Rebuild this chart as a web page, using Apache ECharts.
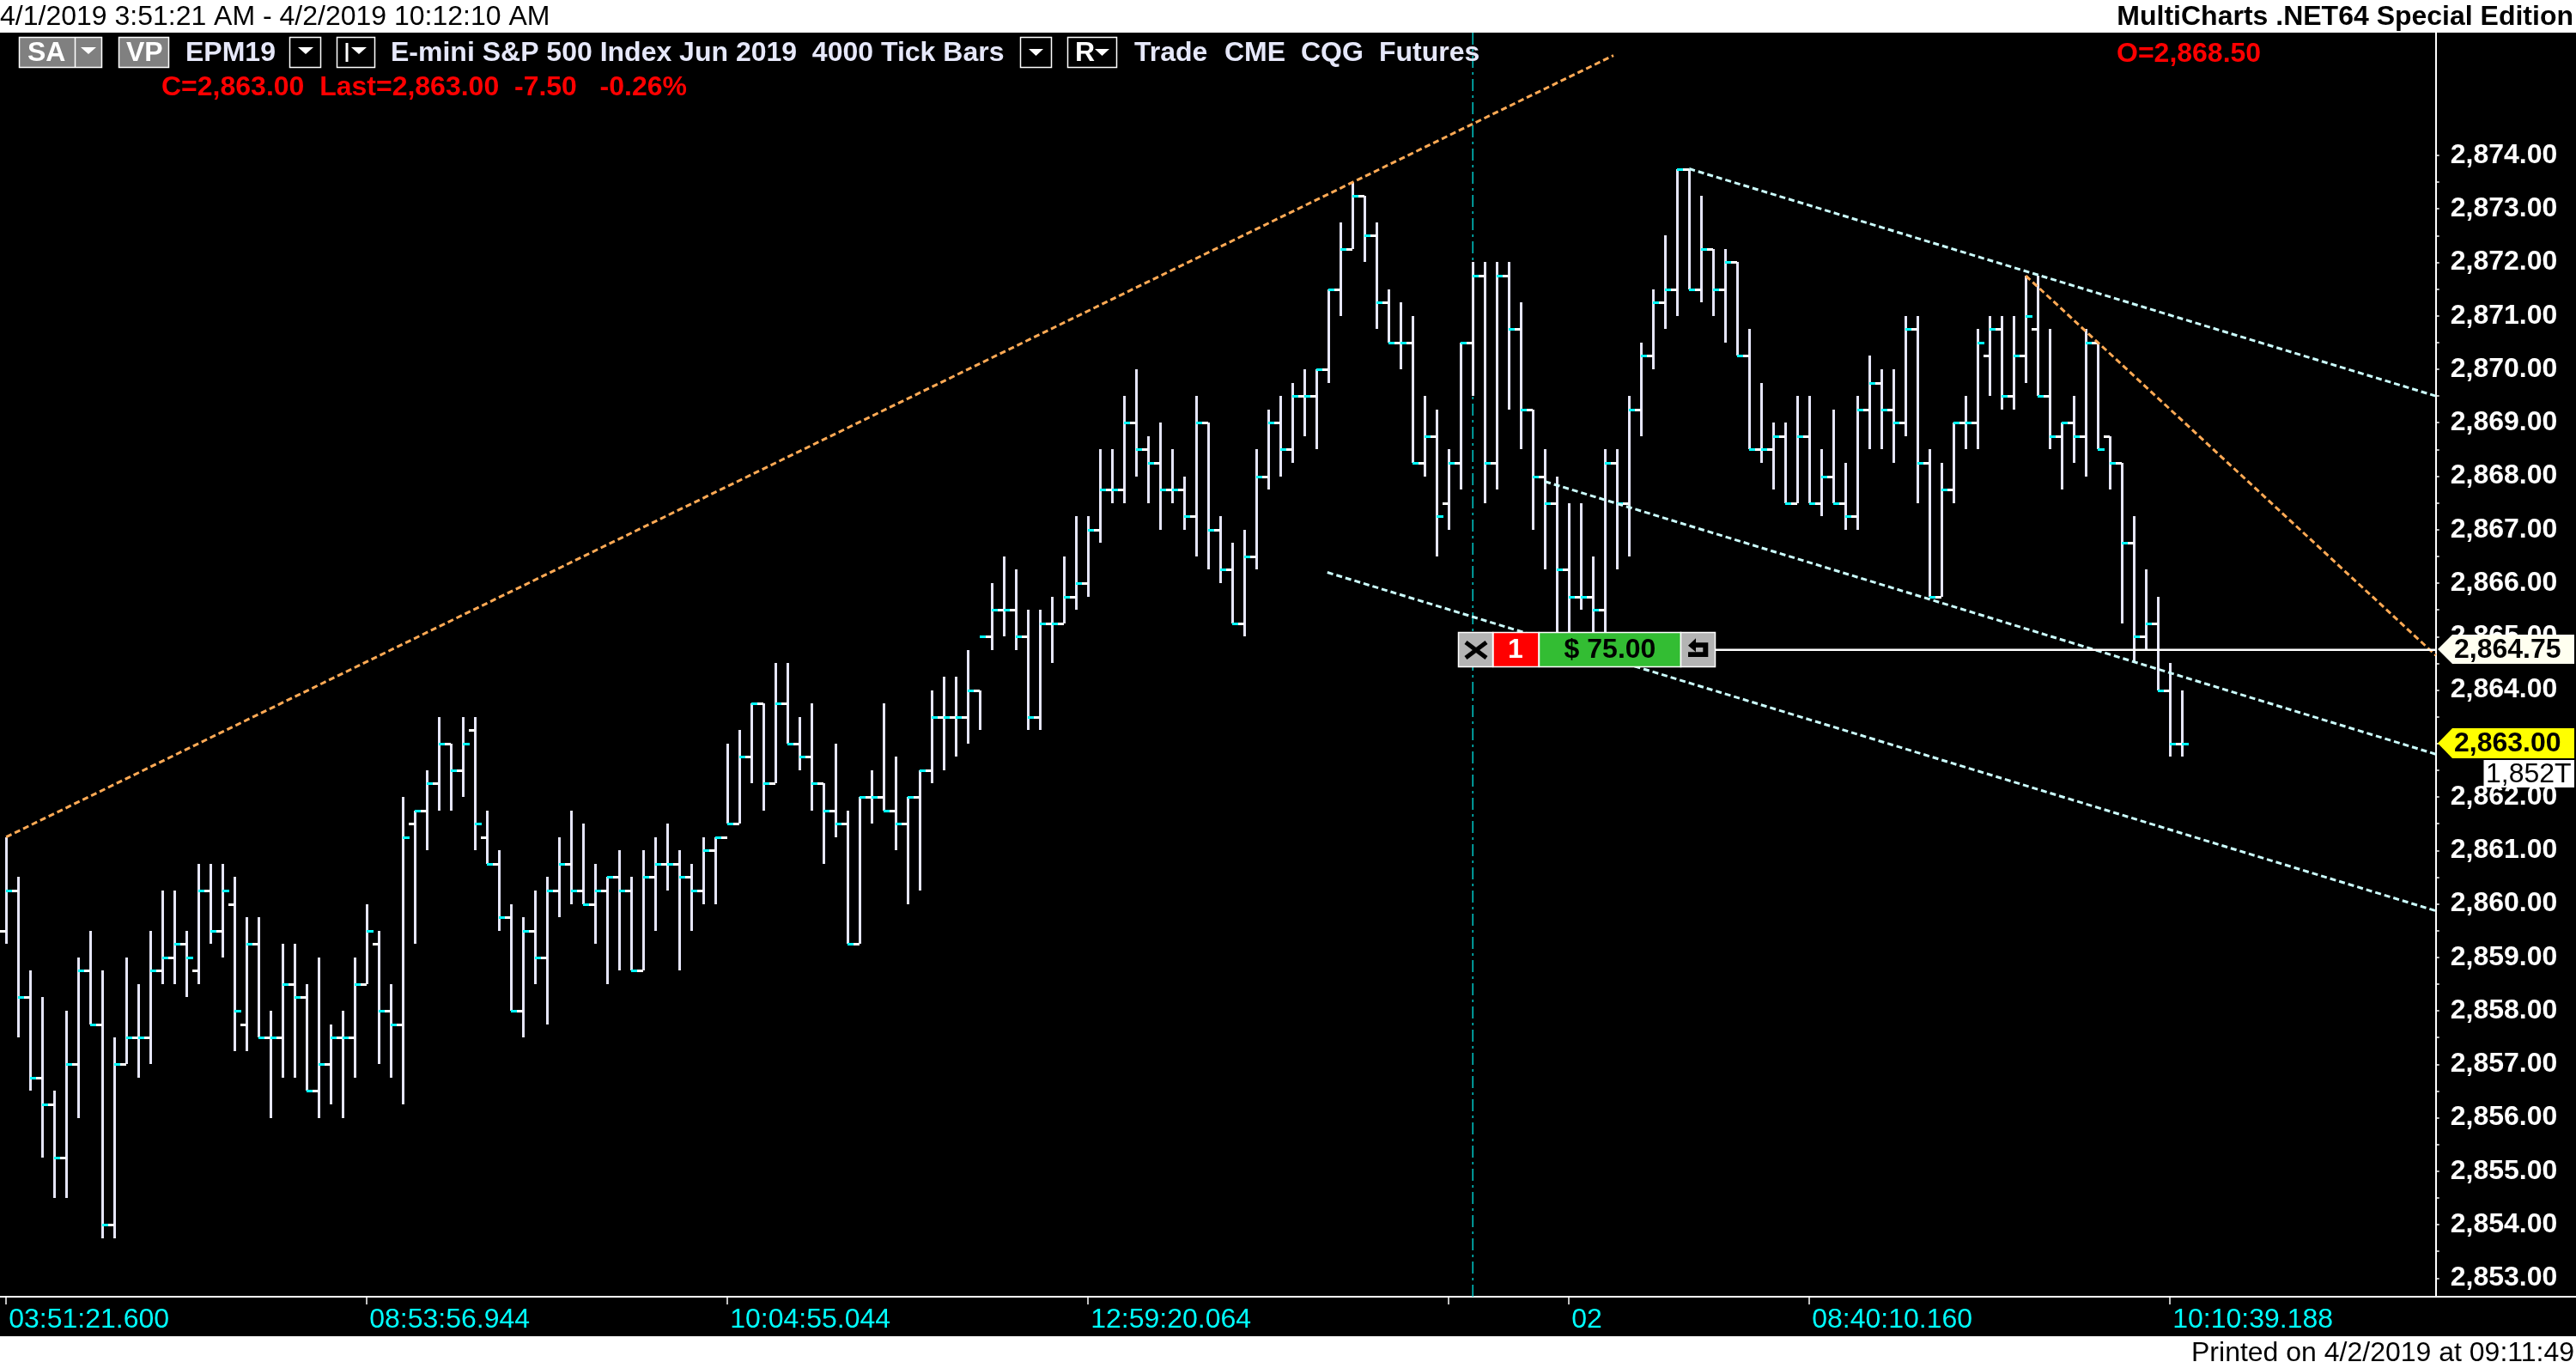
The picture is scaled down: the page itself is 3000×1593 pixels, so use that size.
<!DOCTYPE html>
<html>
<head>
<meta charset="utf-8">
<style>html,body{margin:0;padding:0;background:#fff}#c{width:3000px;height:1593px}</style>
<script src="https://cdn.jsdelivr.net/npm/echarts@6/dist/echarts.min.js"></script>
</head>
<body>
<div id="c"></div>
<script>
// ---------- chart values ----------
const opens = [
2859.5,2860.25,2858.25,2856.75,2856.25,2855.25,2857,2858.75,2857.75,2854,
2857,2857.5,2857.5,2858.75,2859,2859.25,2858.75,2860.25,2859.5,2860,
2857.75,2859.25,2857.5,2857.5,2858.5,2858.25,2856.5,2857,2857.5,2857.5,
2858.5,2859.25,2858,2857.75,2861.5,2861.75,2862.25,2863,2862.5,2863.25,
2861.25,2860.75,2859.75,2858,2859.5,2859,2860.25,2860.75,2860.25,2860,
2860.25,2860.5,2860.25,2858.75,2860.5,2860.75,2860.75,2860.5,2860.25,2861,
2861.25,2861.5,2862.75,2863.75,2862.25,2863.75,2863,2862.75,2862.25,2861.75,
2861.5,2859.25,2862,2862,2861.75,2861.5,2862,2862.5,2863.5,2863.5,
2863.5,2864,2865,2865.5,2865.5,2865,2863.5,2865.25,2865.25,2865.75,
2866,2867,2867.75,2867.75,2869,2868.5,2868.25,2867.75,2867.75,2867.25,
2869,2867,2866.25,2865.25,2866.5,2868,2869,2868.5,2869.5,2869.5,
2870,2871.5,2872.25,2873.25,2872.5,2871.25,2870.5,2870.5,2868.25,2868.75,
2867.5,2868.25,2870.5,2871.75,2868.25,2871.75,2870.75,2869.25,2868,2867.5,
2866.25,2865.75,2865.75,2865.5,2868.25,2867.5,2869.25,2870.25,2871.25,2871.5,
2873.75,2871.5,2872.25,2871.5,2872,2870.25,2868.5,2868.5,2868.75,2867.5,
2868.75,2867.5,2868,2867.5,2867.25,2869.25,2869.75,2869.25,2869,2870.75,
2868.25,2865.75,2867.75,2869,2869,2870.25,2870.75,2869.5,2870.25,2870.75,
2869.5,2868.75,2869,2868.75,2870.5,2868.75,2868.25,2866.75,2865,2865.25,2864,2863];
const highs = [
2861.25,2860.5,2858.75,2858.25,2856.5,2858,2859,2859.5,2858.75,2857.5,
2859,2858.5,2859.5,2860.25,2860.25,2859.5,2860.75,2860.75,2860.75,2860.5,
2859.75,2859.75,2858,2859.25,2859.25,2858.5,2859,2857.75,2858,2859,
2860,2859.5,2858.5,2862,2861.75,2862.5,2863.5,2863,2863.5,2863.5,
2861.75,2861,2860,2859.75,2860.25,2860.5,2861.25,2861.75,2861.5,2860.75,
2860.5,2861,2860.5,2861,2861.25,2861.5,2861,2860.75,2861.25,2861.25,
2863,2863.25,2863.75,2863.75,2864.5,2864.5,2863.5,2863.75,2862.25,2863,
2861.75,2862,2862.5,2863.75,2862.75,2862,2862.5,2864,2864.25,2864.25,
2864.75,2864,2866,2866.5,2866.25,2865.5,2865.5,2865.75,2866.5,2867.25,
2867.25,2868.5,2868.5,2869.5,2870,2868.75,2869,2868.5,2868,2869.5,
2869,2867.25,2866.75,2867,2868.5,2869.25,2869.5,2869.75,2870,2870,
2871.5,2872.75,2873.5,2873.25,2872.75,2871.5,2871.25,2871,2869.5,2869.25,
2868.5,2870.5,2872,2872,2872,2872,2871.25,2869.25,2868.5,2868,
2867.5,2867.5,2866.5,2868.5,2868.5,2869.5,2870.5,2871.5,2872.5,2873.75,
2873.75,2873.25,2872.25,2872.25,2872,2870.75,2869.75,2869,2869,2869.5,
2869.5,2868.5,2869.25,2868.25,2869.5,2870.25,2870,2870,2871,2871,
2868.5,2868.25,2869,2869.5,2870.75,2871,2871,2871,2871.75,2871.75,
2870.75,2869,2869.5,2870.75,2870.5,2868.75,2868.25,2867.25,2866.25,2865.75,2864.5,2864];
const lows = [
2859.25,2857.5,2856.5,2855.25,2854.5,2854.5,2856,2857.75,2853.75,2853.75,
2857,2856.75,2857,2858.5,2858.5,2858.25,2858.5,2859.25,2859,2857.25,
2857.25,2857.5,2856,2856.75,2856.75,2856.5,2856,2856.25,2856,2856.75,
2858.5,2857,2856.75,2856.25,2859.25,2861,2861.75,2861.75,2862,2861,
2860.75,2859.5,2858,2857.5,2858.5,2857.75,2859.75,2860,2860,2859.25,
2858.5,2858.75,2858.75,2858.75,2859.5,2860.25,2858.75,2859.5,2860,2860,
2861.5,2861.5,2862.25,2861.75,2862.25,2863,2862.5,2861.75,2860.75,2861.25,
2859.25,2859.25,2861.5,2861.75,2861,2860,2860.25,2862.25,2862.5,2862.75,
2863,2863.25,2864.75,2865,2864.75,2863.25,2863.25,2864.5,2865.25,2865.5,
2865.75,2866.75,2867.5,2867.5,2868,2867.5,2867,2867.5,2867,2866.5,
2866.25,2866,2865.25,2865,2866.25,2867.75,2868,2868.25,2868.75,2868.5,
2869.75,2871,2872.25,2872,2870.75,2870.5,2870,2868.25,2868,2866.5,
2867,2867.75,2869.5,2867.5,2867.75,2869.25,2868.5,2867,2866.25,2864.75,
2864.75,2865.5,2864.75,2864.75,2866.25,2866.5,2868.75,2870,2870.75,2871,
2871.5,2871.25,2871,2870.5,2870.25,2868.5,2868.25,2867.75,2867.5,2867.5,
2867.5,2867.25,2867.5,2867,2867,2868.5,2868.5,2868.25,2868.75,2867.5,
2865.75,2865.75,2867.5,2868.5,2868.5,2869.5,2869.25,2869.25,2869.75,2869.5,
2868.5,2867.75,2868.25,2868,2868.5,2867.75,2865.25,2864.5,2864.75,2864,2862.75,2862.75];
const closes = [
2860.25,2858.25,2856.75,2856.25,2855.25,2857,2858.75,2857.75,2854,2857,
2857.5,2857.5,2858.75,2859,2859.25,2859,2860.25,2859.5,2860.25,2858,
2859.25,2857.5,2857.5,2858.5,2858.25,2856.5,2857,2857.5,2857.5,2858.5,
2859.5,2858,2857.75,2861.25,2861.75,2862.25,2863,2862.5,2863,2861.5,
2860.75,2859.75,2858,2859.5,2859,2860.25,2860.75,2860.25,2860,2860.25,
2860.5,2860.25,2858.75,2860.5,2860.75,2860.75,2860.5,2860.25,2861,2861.25,
2861.5,2862.75,2863.75,2862.25,2863.75,2863,2862.75,2862.25,2861.75,2861.5,
2859.25,2862,2862,2861.75,2861.5,2862,2862.5,2863.5,2863.5,2863.5,
2864,2865,2865.5,2865.5,2865,2863.5,2865.25,2865.25,2865.75,2866,
2867,2867.75,2867.75,2869,2868.5,2868.25,2867.75,2867.75,2867.25,2869,
2867,2866.25,2865.25,2866.5,2868,2869,2868.5,2869.5,2869.5,2870,
2871.5,2872.25,2873.25,2872.5,2871.25,2870.5,2870.5,2868.25,2868.75,2867.25,
2868.25,2870.5,2871.75,2868.25,2871.75,2870.75,2869.25,2868,2867.5,2866.25,
2865.75,2865.75,2865.5,2868.25,2867.5,2869.25,2870.25,2871.25,2871.5,2873.75,
2871.5,2872.25,2871.5,2872,2870.25,2868.5,2868.5,2868.75,2867.5,2868.75,
2867.5,2868,2867.5,2867.25,2869.25,2869.75,2869.25,2869,2870.75,2868.25,
2865.75,2867.75,2869,2869,2870.5,2870.75,2869.5,2870.25,2871,2869.5,
2868.75,2869,2868.75,2870.5,2868.5,2868.25,2866.75,2865,2865.25,2864,2863,2863];

const xTickBars   = [0,30,60,90,120,130,150,180];
const xTickLabels = ['03:51:21.600','08:53:56.944','10:04:55.044','12:59:20.064','','02','08:40:10.160','10:10:39.188'];
const yTickValues = [2853,2854,2855,2856,2857,2858,2859,2860,2861,2862,2863,2864,2865,2866,2867,2868,2869,2870,2871,2872,2873,2874];

const trendOrangeUp   = [[0,2861.25],[133.7,2875.87]];
const trendOrangeDown = [[168,2871.75],[202.1,2864.65]];
const channelTop      = [[140,2873.75],[202.1,2869.5]];
const channelMid      = [[128,2867.9],[202.1,2862.8]];
const channelLow      = [[109.9,2866.2],[202.1,2859.87]];
const targetLine      = [[142.2,2864.75],[202.1,2864.75]];
const sessionLine     = [[122,2852.651],[122,2876.297]];

const FONT = '"Liberation Sans", Arial, sans-serif';
const bars = opens.map((o,i)=>[i,o,highs[i],lows[i],closes[i]]);
const halfTicks = [];
yTickValues.forEach(v=>{halfTicks.push(v); if(v<2874) halfTicks.push(v+0.5);});

function renderBar(params, api){
  const i=api.value(0);
  const x=Math.round(api.coord([i,0])[0]);
  const yO=Math.round(api.coord([i,api.value(1)])[1]);
  const yH=Math.round(api.coord([i,api.value(2)])[1]);
  const yL=Math.round(api.coord([i,api.value(3)])[1]);
  const yC=Math.round(api.coord([i,api.value(4)])[1]);
  return {type:'group',children:[
    {type:'rect',shape:{x:x-1,y:yH,width:3,height:yL-yH},style:{fill:'#e6e6fa'}},
    {type:'rect',shape:{x:x-7,y:yO-1,width:7,height:3},style:{fill:'#ffffff'}},
    {type:'rect',shape:{x:x,y:yC-1,width:8,height:3},style:{fill:'#00ffff'}}
  ]};
}
function dashLine(data,color,dash,width,z){
  return {type:'line',data:data,showSymbol:false,symbol:'none',silent:true,animation:false,z:z||4,
    lineStyle:{color:color,width:width||3,type:dash,cap:'butt'}};
}
function txt(x,y,s,fill,font,align){
  return {type:'text',z:102,x:x,y:y,style:{text:s,fill:fill,font:font,textAlign:align||'left',textVerticalAlign:'middle'}};
}
function box(x,y,w,h,fill,stroke){
  return {type:'rect',z:100,shape:{x:x,y:y,width:w,height:h},style:{fill:fill,stroke:stroke||null,lineWidth:stroke?1.5:0}};
}
function poly(pts,fill){
  return {type:'polygon',z:101,shape:{points:pts},style:{fill:fill}};
}
function seg(a,b,c,d,color,w){
  return {type:'line',z:101,shape:{x1:a,y1:b,x2:c,y2:d},style:{stroke:color,lineWidth:w}};
}
const B32='bold 32px '+FONT, N32='32px '+FONT;
const LAV='#e6e8fa', GR='#808080';
const graphics=[
  {type:'rect',z:-10,shape:{x:0,y:38,width:3000,height:1518},style:{fill:'#000'}},
  // top & bottom strip text
  txt(0,20,'4/1/2019 3:51:21 AM - 4/2/2019 10:12:10 AM','#000',N32),
  txt(2997,20,'MultiCharts .NET64 Special Edition','#000',B32,'right'),
  txt(2998,1576,'Printed on 4/2/2019 at 09:11:49','#000',N32,'right'),
  // toolbar
  box(22.5,43.5,96,35,GR,'#fff'), seg(87.5,44,87.5,78,'#fff',1.5), txt(32,62,'SA','#fff',B32),
  poly([[94,55],[112,55],[103,63]],'#fff'),
  box(138.5,43.5,58,35,GR,'#fff'), txt(147,62,'VP','#fff',B32),
  txt(216,62,'EPM19',LAV,B32),
  box(337.5,43.5,36,35,'#000','#fff'), poly([[347,55],[365,55],[356,63]],'#fff'),
  box(392.5,43.5,44,35,'#000','#fff'), seg(404,50,404,72,'#fff',3), poly([[409,55],[427,55],[418,63]],'#fff'),
  txt(455,62,'E-mini S&P 500 Index Jun 2019  4000 Tick Bars',LAV,B32),
  box(1188.5,43.5,36,35,'#000','#fff'), poly([[1198,57],[1215,57],[1206.5,65]],'#fff'),
  box(1243.5,43.5,57,35,'#000','#fff'), txt(1252,62,'R','#fff',B32), poly([[1275,57],[1292,57],[1283.5,65]],'#fff'),
  txt(1321,62,'Trade',LAV,B32), txt(1426,62,'CME',LAV,B32), txt(1515,62,'CQG',LAV,B32), txt(1606,62,'Futures',LAV,B32),
  txt(188,102,'C=2,863.00  Last=2,863.00  -7.50   -0.26%','#f00',B32),
  txt(2465,63,'O=2,868.50','#f00',B32),
  // trade box
  box(1698.5,736.5,40,40,'#b4b4b4','#fff'),
  seg(1707,748,1731,766,'#000',5), seg(1731,748,1707,766,'#000',5),
  box(1739,736.5,53,40,'#f00','#fff'), txt(1765,757,'1','#fff',B32,'center'),
  box(1792.5,736.5,165,40,'#33bd33','#fff'), txt(1875,757,'$ 75.00','#000',B32,'center'),
  box(1957.5,736.5,40,40,'#b4b4b4','#fff'),
  poly([[1966,751.7],[1975,743.3],[1975,748.3],[1989.3,748.3],[1989.3,765],[1966,765],[1966,759.3],[1983.3,759.3],[1983.3,754],[1975,754],[1975,759.3]],'#000'),
  // price tags
  poly([[2839,756],[2856,739],[2998,739],[2998,773],[2856,773]],'#fffff0'),
  txt(2858,757,'2,864.75','#000',B32),
  poly([[2839,865.5],[2856,848],[2998,848],[2998,883],[2856,883]],'#ffff00'),
  txt(2858,866,'2,863.00','#000',B32),
  box(2892.5,885,105.5,32,'#fff'),
  txt(2895,902,'1,852T','#000',N32)
];

const chart=echarts.init(document.getElementById('c'),null,{renderer:'canvas',width:3000,height:1593});
chart.setOption({
  animation:false,
  backgroundColor:'#ffffff',
  grid:{left:0,right:0,top:38,bottom:83,containLabel:false},
  xAxis:{type:'value',min:-0.5143,max:213.77,splitLine:{show:false},
    axisLine:{show:true,onZero:false,lineStyle:{color:'#fff',width:2}},
    axisTick:{show:true,customValues:xTickBars,length:9,lineStyle:{color:'#fff',width:1.5}},
    axisLabel:{show:true,customValues:xTickBars,color:'#00ffff',fontFamily:'"Liberation Sans", Arial, sans-serif',fontSize:32,align:'left',margin:11,padding:[0,0,0,3],
      formatter:function(v){const k=xTickBars.indexOf(Math.round(v));return k>=0?xTickLabels[k]:'';}}},
  yAxis:{type:'value',position:'right',offset:-163.3,min:2852.651,max:2876.297,splitLine:{show:false},
    axisLine:{show:true,onZero:false,lineStyle:{color:'#fff',width:2}},
    axisTick:{show:true,customValues:halfTicks,length:4,lineStyle:{color:'#fff',width:1.5}},
    axisLabel:{show:true,customValues:yTickValues,color:'#fff',fontFamily:'"Liberation Sans", Arial, sans-serif',fontSize:32,fontWeight:'bold',margin:17,
      formatter:function(v){return v.toLocaleString('en-US',{minimumFractionDigits:2,maximumFractionDigits:2});}}},
  graphic:graphics,
  series:[
    dashLine(sessionLine,'#00c8c8',[14,5,3,5],1.5,1),
    {type:'custom',data:bars,renderItem:renderBar,clip:false,silent:true,z:3,encode:{x:0,y:[1,2,3,4]}},
    dashLine(trendOrangeUp,'#ffaa55',[7,4]),
    dashLine(trendOrangeDown,'#ffaa55',[7,4]),
    dashLine(channelTop,'#ccffff',[7,4]),
    dashLine(channelMid,'#ccffff',[7,4]),
    dashLine(channelLow,'#ccffff',[7,4]),
    {type:'line',data:targetLine,showSymbol:false,symbol:'none',silent:true,z:4,lineStyle:{color:'#fff',width:2.5}}
  ]
});
</script>
</body>
</html>
